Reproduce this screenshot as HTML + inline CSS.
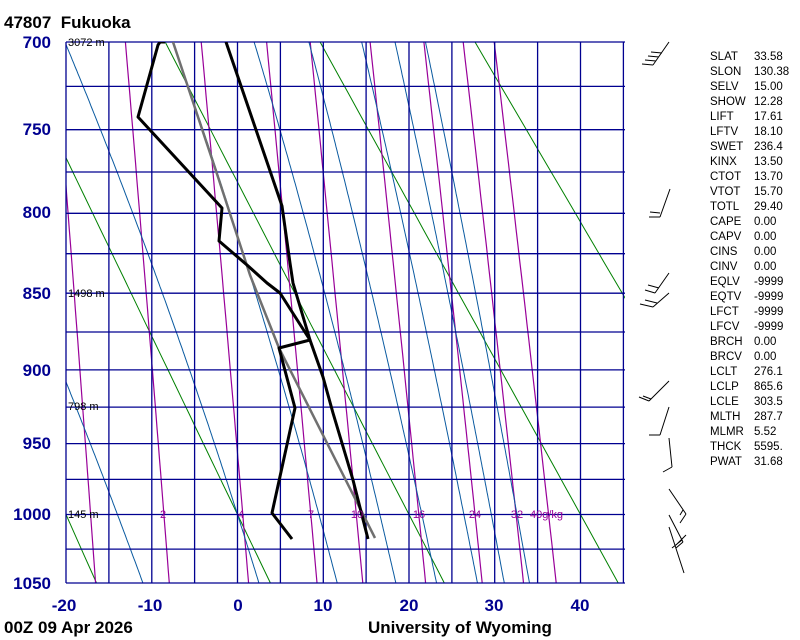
<!DOCTYPE html>
<html><head><meta charset="utf-8">
<style>
html,body{margin:0;padding:0;background:#fff;}
svg{display:block;font-family:"Liberation Sans",sans-serif;}
.ax{fill:#000090;font-weight:bold;font-size:17px;}
.bt{fill:#000;font-weight:bold;font-size:17px;}
.st{fill:#000;font-size:11.5px;}
.hm{fill:#000;font-size:11px;}
.mr{fill:#990099;font-size:11px;}
</style></head><body>
<svg id="s" width="800" height="640" viewBox="0 0 800 640" xmlns="http://www.w3.org/2000/svg">
<defs><clipPath id="c"><rect x="66" y="42" width="559" height="541"/></clipPath></defs>
<g id="bg" clip-path="url(#c)"></g>
<g id="grid"></g>
<g clip-path="url(#c)" fill="none" stroke-linejoin="round">
<polyline points="375,538 279,348 250,275 219,180 173,42" stroke="#707070" stroke-width="2.5"/>
<polyline points="368,539 353,480 333,413 323,377 310,340 293,283 290,263 282,206 226,42" stroke="#000" stroke-width="3"/>
<polyline points="292,539 272,513 295,408 279,348 310,340 280,293 267,283 247,265 219,241 222,208 138,117 158,45 160,42 165,42" stroke="#000" stroke-width="3"/>
</g>
<g stroke="#000" stroke-width="1" fill="none">
<path d="M669,42 L653,65 M653,65 L642,64 M656,61 L645,60 M659,57 L648,56 M662,53 L651,52"/>
<path d="M670,189 L660,217 M660,217 L649,217 M660,213 L650,212"/>
<path d="M669,273 L655,293 M655,293 L645,290 M659,288 L648,285"/>
<path d="M669,293 L653,307 M653,307 L640,304 M657,303 L645,300"/>
<path d="M669,381 L649,401 M649,401 L639,397 M651,399 L643,396"/>
<path d="M669,407 L660,435 M660,435 L649,435"/>
<path d="M669,438 L672,467 M672,467 L663,472"/>
<path d="M669,489 L686,514 M686,514 L680,523 M683,510 L680,515"/>
<path d="M669,515 L683,542 M683,542 L676,548 M669,527 L684,573 M676,545 L686,535 M672,548 L682,540"/>
</g>
<text x="4" y="28" class="bt">47807&#160; Fukuoka</text>
<g text-anchor="end">
<text x="51" y="48" class="ax">700</text>
<text x="51" y="135" class="ax">750</text>
<text x="51" y="218" class="ax">800</text>
<text x="51" y="299" class="ax">850</text>
<text x="51" y="376" class="ax">900</text>
<text x="51" y="449" class="ax">950</text>
<text x="51" y="520" class="ax">1000</text>
<text x="51" y="589" class="ax">1050</text>
</g>
<g text-anchor="middle">
<text x="64" y="611" class="ax">-20</text>
<text x="150" y="611" class="ax">-10</text>
<text x="238" y="611" class="ax">0</text>
<text x="323" y="611" class="ax">10</text>
<text x="409" y="611" class="ax">20</text>
<text x="494" y="611" class="ax">30</text>
<text x="580" y="611" class="ax">40</text>
</g>
<text x="4" y="633" class="bt">00Z 09 Apr 2026</text>
<text x="368" y="633" class="bt">University of Wyoming</text>
<text x="68" y="46" class="hm">3072 m</text>
<text x="68" y="297" class="hm">1498 m</text>
<text x="68" y="410" class="hm">798 m</text>
<text x="68" y="518" class="hm">145 m</text>
<g text-anchor="middle">
<text x="163" y="518" class="mr">2</text>
<text x="241" y="518" class="mr">4</text>
<text x="311" y="518" class="mr">7</text>
<text x="357" y="518" class="mr">10</text>
<text x="419" y="518" class="mr">16</text>
<text x="475" y="518" class="mr">24</text>
<text x="517" y="518" class="mr">32</text>
</g>
<text x="530" y="518" class="mr">40g/kg</text>
<g class="st">
<text x="710" y="60">SLAT</text><text x="754" y="60">33.58</text>
<text x="710" y="75">SLON</text><text x="754" y="75">130.38</text>
<text x="710" y="90">SELV</text><text x="754" y="90">15.00</text>
<text x="710" y="105">SHOW</text><text x="754" y="105">12.28</text>
<text x="710" y="120">LIFT</text><text x="754" y="120">17.61</text>
<text x="710" y="135">LFTV</text><text x="754" y="135">18.10</text>
<text x="710" y="150">SWET</text><text x="754" y="150">236.4</text>
<text x="710" y="165">KINX</text><text x="754" y="165">13.50</text>
<text x="710" y="180">CTOT</text><text x="754" y="180">13.70</text>
<text x="710" y="195">VTOT</text><text x="754" y="195">15.70</text>
<text x="710" y="210">TOTL</text><text x="754" y="210">29.40</text>
<text x="710" y="225">CAPE</text><text x="754" y="225">0.00</text>
<text x="710" y="240">CAPV</text><text x="754" y="240">0.00</text>
<text x="710" y="255">CINS</text><text x="754" y="255">0.00</text>
<text x="710" y="270">CINV</text><text x="754" y="270">0.00</text>
<text x="710" y="285">EQLV</text><text x="754" y="285">-9999</text>
<text x="710" y="300">EQTV</text><text x="754" y="300">-9999</text>
<text x="710" y="315">LFCT</text><text x="754" y="315">-9999</text>
<text x="710" y="330">LFCV</text><text x="754" y="330">-9999</text>
<text x="710" y="345">BRCH</text><text x="754" y="345">0.00</text>
<text x="710" y="360">BRCV</text><text x="754" y="360">0.00</text>
<text x="710" y="375">LCLT</text><text x="754" y="375">276.1</text>
<text x="710" y="390">LCLP</text><text x="754" y="390">865.6</text>
<text x="710" y="405">LCLE</text><text x="754" y="405">303.5</text>
<text x="710" y="420">MLTH</text><text x="754" y="420">287.7</text>
<text x="710" y="435">MLMR</text><text x="754" y="435">5.52</text>
<text x="710" y="450">THCK</text><text x="754" y="450">5595.</text>
<text x="710" y="465">PWAT</text><text x="754" y="465">31.68</text>
</g>
</svg>
<script>
(function(){
var NS="http://www.w3.org/2000/svg";
function Y(p){var k0=Math.pow(700,.286),k1=Math.pow(1050,.286);return 42+(Math.pow(p,.286)-k0)/(k1-k0)*541;}
function X(t){return 66+(t+20)*8.575;}
var bg=document.getElementById('bg'),gr=document.getElementById('grid');
function pl(g,pts,col,w){var e=document.createElementNS(NS,'polyline');e.setAttribute('points',pts.map(function(a){return a[0].toFixed(1)+','+a[1].toFixed(1)}).join(' '));e.setAttribute('fill','none');e.setAttribute('stroke',col);e.setAttribute('stroke-width',w);g.appendChild(e);}
var p,t,i;
[-20,0,20,40,60,80].forEach(function(th){var a=[];for(p=690;p<=1060;p+=10){a.push([X((th+273.15)*Math.pow(p/1000,.286)-273.15),Y(p)]);}pl(bg,a,'#008000',1);});
[1,2,4,7,10,16,24,32,40].forEach(function(w){var a=[];for(p=690;p<=1060;p+=10){var e=w*p/(622+w);var l=Math.log(e/6.112);a.push([X(243.5*l/(17.67-l)),Y(p)]);}pl(bg,a,'#990099',1.2);});
function es(T){return 6.112*Math.exp(17.67*T/(T+243.5));}
function dTdp(T,p){var Tk=T+273.15,e=es(T),rs=0.622*e/(p-e),L=2.5e6,Rd=287,cp=1004;return (Rd*Tk+L*rs)/(cp+L*L*rs*0.622/(Rd*Tk*Tk))/p;}
[-14,0,9.5,16.6,21.5,26.4,29.6,32.6].forEach(function(t0){var up=[],dn=[];t=t0;for(p=1000;p>=680;p-=2){up.push([X(t),Y(p)]);t-=dTdp(t,p)*2;}t=t0;for(p=1000;p<=1060;p+=2){dn.push([X(t),Y(p)]);t+=dTdp(t,p)*2;}pl(bg,up.reverse().concat(dn),'#0a5aa0',1);});
for(t=-20;t<=45;t+=5){pl(gr,[[X(t),42],[X(t),583]],'#000090',1.3);}
for(p=700;p<=1050;p+=25){pl(gr,[[66,Y(p)],[625,Y(p)]],'#000090',1.3);}
})();
</script>
</body></html>
